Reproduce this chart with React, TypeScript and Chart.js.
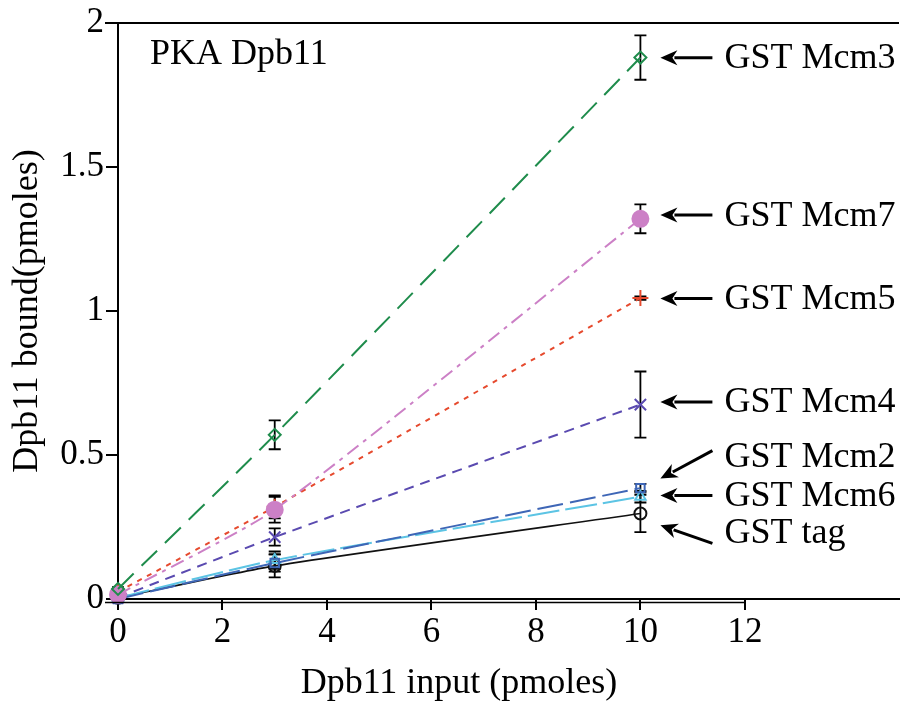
import React, { useEffect, useRef } from 'react';
import { Chart, registerables } from 'chart.js';
Chart.register(...registerables);

// ---------- data ----------
const xInput = [0, 3, 10];

const mcm3 = [0.035, 0.57, 1.88];
const mcm3Err = [0.006, 0.05, 0.077];
const mcm7 = [0.015, 0.31, 1.32];
const mcm7Err = [0.005, 0.045, 0.05];
const mcm5 = [0.025, 0.32, 1.045];
const mcm5Err = [0.005, 0.04, 0.006];
const mcm4 = [0.005, 0.215, 0.675];
const mcm4Err = [0.004, 0.03, 0.115];
const mcm2 = [0.0, 0.125, 0.385];
const mcm2Err = [0.004, 0.03, 0.015];
const mcm6 = [0.004, 0.135, 0.355];
const mcm6Err = [0.004, 0.03, 0.02];
const tag = [0.004, 0.115, 0.297];
const tagErr = [0.004, 0.04, 0.065];

const xTickValues = [0, 2, 4, 6, 8, 10, 12];
const yTickValues = [0, 0.5, 1, 1.5, 2];

const labelNames = ['GST Mcm3', 'GST Mcm7', 'GST Mcm5', 'GST Mcm4', 'GST Mcm2', 'GST Mcm6', 'GST tag'];
const arrowTipY = [1.879, 1.333, 1.043, 0.684, 0.418, 0.359, 0.256];
const arrowTailY = [1.879, 1.333, 1.043, 0.684, 0.515, 0.359, 0.193];
const labelTextY = [1.879, 1.333, 1.043, 0.684, 0.494, 0.359, 0.231];

const FONT = '"Liberation Serif", "Times New Roman", serif';

const seriesList = [
  { name: 'GST Mcm3', values: mcm3, errors: mcm3Err, color: '#1f8c4c', dash: [22, 11], style: 'rectRot', radius: 6, fill: false, width: 2 },
  { name: 'GST Mcm7', values: mcm7, errors: mcm7Err, color: '#cc80c6', dash: [14, 6, 4, 6], style: 'circle', radius: 8, fill: true, width: 2 },
  { name: 'GST Mcm5', values: mcm5, errors: mcm5Err, color: '#e64a2e', dash: [5, 6], style: 'cross', radius: 8, fill: false, width: 2 },
  { name: 'GST Mcm4', values: mcm4, errors: mcm4Err, color: '#5a4ab0', dash: [10, 7], style: 'crossRot', radius: 8, fill: false, width: 2 },
  { name: 'GST Mcm2', values: mcm2, errors: mcm2Err, color: '#3e66b6', dash: [26, 7], style: 'rect', radius: 6, fill: false, width: 2 },
  { name: 'GST Mcm6', values: mcm6, errors: mcm6Err, color: '#5cc4e4', dash: [32, 6], style: 'triangle', radius: 6, fill: false, width: 2 },
  { name: 'GST tag', values: tag, errors: tagErr, color: '#111111', dash: [], style: 'circle', radius: 6, fill: false, width: 1.6 },
];

const errorBarPlugin = {
  id: 'errorBars',
  beforeDatasetsDraw(chart: any) {
    const { ctx } = chart;
    const x = chart.scales.x;
    const y = chart.scales.y;
    ctx.save();
    ctx.strokeStyle = '#000';
    ctx.lineWidth = 1.8;
    seriesList.forEach((s) => {
      s.errors.forEach((e, i) => {
        const px = x.getPixelForValue(xInput[i]);
        const top = y.getPixelForValue(s.values[i] + e);
        const bot = y.getPixelForValue(s.values[i] - e);
        ctx.beginPath();
        ctx.moveTo(px, top);
        ctx.lineTo(px, bot);
        ctx.moveTo(px - 6, top);
        ctx.lineTo(px + 6, top);
        ctx.moveTo(px - 6, bot);
        ctx.lineTo(px + 6, bot);
        ctx.stroke();
      });
    });
    ctx.restore();
  },
};

function drawArrow(ctx: CanvasRenderingContext2D, x1: number, y1: number, x2: number, y2: number) {
  const ang = Math.atan2(y2 - y1, x2 - x1);
  const headLen = 17;
  const headHalf = 7.5;
  const bx = x2 - headLen * Math.cos(ang);
  const by = y2 - headLen * Math.sin(ang);
  ctx.beginPath();
  ctx.moveTo(x1, y1);
  ctx.lineTo(bx + 3 * Math.cos(ang), by + 3 * Math.sin(ang));
  ctx.stroke();
  ctx.beginPath();
  ctx.moveTo(x2, y2);
  ctx.lineTo(bx - headHalf * Math.sin(ang), by + headHalf * Math.cos(ang));
  ctx.lineTo(bx + 5 * Math.cos(ang), by + 5 * Math.sin(ang));
  ctx.lineTo(bx + headHalf * Math.sin(ang), by - headHalf * Math.cos(ang));
  ctx.closePath();
  ctx.fill();
}

const decorPlugin = {
  id: 'decor',
  afterDraw(chart: any) {
    const { ctx, chartArea } = chart;
    const x = chart.scales.x;
    const y = chart.scales.y;
    ctx.save();
    // top frame line
    ctx.strokeStyle = '#000';
    ctx.lineWidth = 2;
    ctx.beginPath();
    ctx.moveTo(chartArea.left - 13, chartArea.top);
    ctx.lineTo(chartArea.right, chartArea.top);
    ctx.stroke();
    // second (double) x-axis line up to 12
    ctx.lineWidth = 1.5;
    ctx.beginPath();
    ctx.moveTo(chartArea.left - 13, chartArea.bottom + 3.5);
    ctx.lineTo(x.getPixelForValue(12), chartArea.bottom + 3.5);
    ctx.stroke();

    // panel title
    ctx.fillStyle = '#000';
    ctx.font = `36px ${FONT}`;
    ctx.textAlign = 'left';
    ctx.textBaseline = 'middle';
    ctx.fillText('PKA Dpb11', chartArea.left + 32, chartArea.top + 32);

    // x axis title
    ctx.textAlign = 'center';
    ctx.textBaseline = 'alphabetic';
    ctx.fillText('Dpb11 input (pmoles)', 459, 693);

    // arrows + labels
    const tipX = x.getPixelForValue(10) + 20;
    const tailX = tipX + 52;
    ctx.lineWidth = 3;
    ctx.strokeStyle = '#000';
    ctx.fillStyle = '#000';
    labelNames.forEach((name, i) => {
      const ty = y.getPixelForValue(arrowTipY[i]);
      const ly = y.getPixelForValue(arrowTailY[i]);
      drawArrow(ctx, tailX, ly, tipX, ty);
      ctx.textAlign = 'left';
      ctx.textBaseline = 'middle';
      ctx.font = `36px ${FONT}`;
      ctx.fillText(name, tailX + 12, y.getPixelForValue(labelTextY[i]) + 1);
    });
    ctx.restore();
  },
};

export default function App() {
  const ref = useRef<HTMLCanvasElement>(null);
  useEffect(() => {
    if (!ref.current) return;
    const datasets = seriesList.map((s) => ({
      label: s.name,
      data: xInput.map((xv, i) => ({ x: xv, y: s.values[i] })),
      borderColor: s.color,
      backgroundColor: s.fill ? s.color : 'rgba(0,0,0,0)',
      borderWidth: s.width,
      borderDash: s.dash,
      pointStyle: s.style,
      pointRadius: s.radius,
      pointBorderWidth: 2,
      pointBorderColor: s.color,
      pointBackgroundColor: s.fill ? s.color : 'rgba(0,0,0,0)',
      tension: 0.2,
      clip: false,
      fill: false,
    }));
    const chart = new Chart(ref.current, {
      type: 'line',
      data: { datasets },
      plugins: [errorBarPlugin, decorPlugin],
      options: {
        animation: false,
        responsive: false,
        devicePixelRatio: 1,
        layout: { padding: { top: 20, right: 0, left: 0, bottom: 0 } },
        plugins: { legend: { display: false }, tooltip: { enabled: false } },
        scales: {
          x: {
            type: 'linear',
            min: 0,
            max: 14.95,
            afterBuildTicks: (scale: any) => {
              scale.ticks = xTickValues.map((v) => ({ value: v }));
            },
            afterFit: (scale: any) => {
              scale.height = 109;
            },
            ticks: {
              autoSkip: false,
              maxRotation: 0,
              padding: 2,
              color: '#000',
              font: { family: FONT, size: 35 },
              callback: (v: any) => String(v),
            },
            grid: { drawOnChartArea: false, drawTicks: true, tickLength: 11, color: '#000', lineWidth: 2 },
            border: { display: true, color: '#000', width: 2 },
          },
          y: {
            type: 'linear',
            min: 0,
            max: 2,
            afterBuildTicks: (scale: any) => {
              scale.ticks = yTickValues.map((v) => ({ value: v }));
            },
            afterFit: (scale: any) => {
              scale.width = 118;
            },
            ticks: {
              autoSkip: false,
              padding: 2,
              color: '#000',
              font: { family: FONT, size: 35 },
              callback: (v: any) => String(v),
            },
            grid: { drawOnChartArea: false, drawTicks: true, tickLength: 12, color: '#000', lineWidth: 2 },
            border: { display: true, color: '#000', width: 2 },
            title: {
              display: true,
              text: 'Dpb11 bound(pmoles)',
              color: '#000',
              font: { family: FONT, size: 36 },
              padding: { top: 6, bottom: 0 },
            },
          },
        },
      },
    } as any);
    return () => chart.destroy();
  }, []);
  return (
    <div style={{ position: 'absolute', left: 0, top: 0, width: 909, height: 708, background: '#fff' }}>
      <canvas ref={ref} width={909} height={708} style={{ display: 'block' }} />
    </div>
  );
}
